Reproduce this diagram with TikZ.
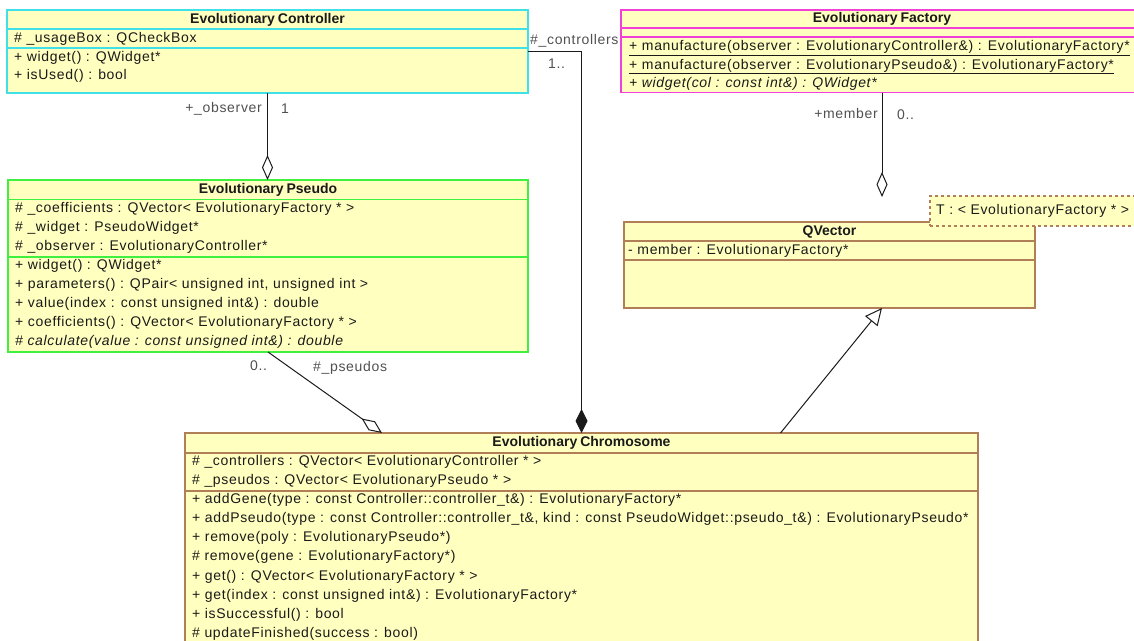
\documentclass[tikz,border=0pt]{standalone}
\usepackage{fontspec}
\setmainfont{Liberation Sans}
\newfontfamily\memberfont{Liberation Sans}[LetterSpace=4.8]
\usetikzlibrary{arrows.meta}

\definecolor{classfill}{HTML}{FFFFC0}
\definecolor{ctrlc}{HTML}{40E0E8}
\definecolor{factc}{HTML}{F040D8}
\definecolor{pseuc}{HTML}{40F040}
\definecolor{brownc}{HTML}{B07F58}
\definecolor{textc}{HTML}{1A1A1A}
\definecolor{labelc}{HTML}{505050}
\definecolor{linec}{HTML}{1A1A1A}

\tikzset{
  classbox/.style={draw=#1, fill=classfill, line width=1.5pt, rectangle,
    inner sep=0pt, outer sep=0pt, anchor=north west},
  sepline/.style={draw=#1, line width=1.5pt},
  classtitle/.style={font=\fontsize{14}{16}\selectfont\bfseries, text=textc,
    inner sep=0pt},
  member/.style={font=\fontsize{14}{16}\selectfont\memberfont, anchor=west,
    inner sep=0pt, text height=10pt, text depth=3pt, text=textc},
  role/.style={member, text=labelc},
  rolee/.style={role, anchor=east},
  link/.style={draw=linec, line width=1pt},
  aggr/.style={link, -{Diamond[open, length=25pt, width=11pt]}},
  comp/.style={link, -{Diamond[length=24pt, width=12pt]}},
  inherit/.style={link, -{Triangle[open, length=17pt, width=16pt]}},
  notebox/.style={draw=brownc, dashed, fill=classfill, line width=1.2pt,
    rectangle, inner sep=0pt, outer sep=0pt, anchor=north west}
}

\begin{document}
\begin{tikzpicture}[x=1pt, y=-1pt]
\useasboundingbox (0,0) rectangle (1134,640);
\clip (0,0) rectangle (1134,640);

% ---------- EvolutionaryController ----------
\node[classbox=ctrlc, minimum width=521pt, minimum height=83pt] (ctrl) at (7,10) {};
\draw[sepline=ctrlc] ([yshift=-19pt]ctrl.north west) -- ([yshift=-19pt]ctrl.north east);
\draw[sepline=ctrlc] ([yshift=-38pt]ctrl.north west) -- ([yshift=-38pt]ctrl.north east);
\node[classtitle] (ctrl-t) at ([yshift=-9.5pt]ctrl.north) {Evolutionary\hspace{3pt}Controller};
\node[member] (ctrl-a1) at (14,38.5) {\# \_usageBox : QCheckBox};
\node[member] (ctrl-m1) at (14,57.5) {+ widget() : QWidget*};
\node[member] (ctrl-m2) at (14,76) {+ isUsed() : bool};

% ---------- EvolutionaryFactory ----------
\node[classbox=factc, minimum width=522pt, minimum height=82.5pt] (fact) at (621,10) {};
\draw[sepline=factc] ([yshift=-18pt]fact.north west) -- ([yshift=-18pt]fact.north east);
\draw[sepline=factc] ([yshift=-27pt]fact.north west) -- ([yshift=-27pt]fact.north east);
\node[classtitle] (fact-t) at ([yshift=-9pt]fact.north) {Evolutionary\hspace{3pt}Factory};
\node[member] (fact-m1) at (629,47) {\underline{+ manufacture(observer : EvolutionaryController\&) : EvolutionaryFactory*}};
\node[member] (fact-m2) at (629,65.5) {\underline{+ manufacture(observer : EvolutionaryPseudo\&) : EvolutionaryFactory*}};
\node[member, font=\fontsize{14}{16}\selectfont\memberfont\itshape] (fact-m3) at (629,84) {+ widget(col : const int\&) : QWidget*};

% ---------- EvolutionaryPseudo ----------
\node[classbox=pseuc, minimum width=520pt, minimum height=172pt] (pseudo) at (8,180) {};
\draw[sepline=pseuc] ([yshift=-19.5pt]pseudo.north west) -- ([yshift=-19.5pt]pseudo.north east);
\draw[sepline=pseuc] ([yshift=-77pt]pseudo.north west) -- ([yshift=-77pt]pseudo.north east);
\node[classtitle] (pseudo-t) at ([yshift=-9.5pt]pseudo.north) {Evolutionary\hspace{3pt}Pseudo};
\node[member] (pseudo-a1) at (15,208.5) {\# \_coefficients : QVector< EvolutionaryFactory * >};
\node[member] (pseudo-a2) at (15,227.5) {\# \_widget : PseudoWidget*};
\node[member] (pseudo-a3) at (15,246.5) {\# \_observer : EvolutionaryController*};
\node[member] (pseudo-m1) at (15,266) {+ widget() : QWidget*};
\node[member] (pseudo-m2) at (15,285) {+ parameters() : QPair< unsigned int, unsigned int >};
\node[member] (pseudo-m3) at (15,304) {+ value(index : const unsigned int\&) : double};
\node[member] (pseudo-m4) at (15,323) {+ coefficients() : QVector< EvolutionaryFactory * >};
\node[member, font=\fontsize{14}{16}\selectfont\memberfont\itshape] (pseudo-m5) at (15,342) {\# calculate(value : const unsigned int\&) : double};

% ---------- QVector with template parameter ----------
\node[classbox=brownc, minimum width=411pt, minimum height=86pt] (qv) at (624,222) {};
\draw[sepline=brownc] ([yshift=-19pt]qv.north west) -- ([yshift=-19pt]qv.north east);
\draw[sepline=brownc] ([yshift=-38pt]qv.north west) -- ([yshift=-38pt]qv.north east);
\node[classtitle] (qv-t) at ([yshift=-9.5pt]qv.north) {QVector};
\node[member] (qv-a1) at (628,250.5) {- member : EvolutionaryFactory*};
\node[notebox, minimum width=220pt, minimum height=30pt] (qv-param) at (930,196) {};
\node[member] (qv-param-t) at (936,211) {T : < EvolutionaryFactory * >};

% ---------- EvolutionaryChromosome ----------
\node[classbox=brownc, minimum width=793pt, minimum height=300pt] (chrom) at (185,433) {};
\draw[sepline=brownc] ([yshift=-20pt]chrom.north west) -- ([yshift=-20pt]chrom.north east);
\draw[sepline=brownc] ([yshift=-58pt]chrom.north west) -- ([yshift=-58pt]chrom.north east);
\node[classtitle] (chrom-t) at ([yshift=-10pt]chrom.north) {Evolutionary\hspace{3pt}Chromosome};
\node[member] (chrom-a1) at (192,462) {\# \_controllers : QVector< EvolutionaryController * >};
\node[member] (chrom-a2) at (192,481) {\# \_pseudos : QVector< EvolutionaryPseudo * >};
\node[member] (chrom-m1) at (192,500) {+ addGene(type : const Controller::controller\_t\&) : EvolutionaryFactory*};
\node[member] (chrom-m2) at (192,519) {+ addPseudo(type : const Controller::controller\_t\&, kind : const PseudoWidget::pseudo\_t\&) : EvolutionaryPseudo*};
\node[member] (chrom-m3) at (192,538) {+ remove(poly : EvolutionaryPseudo*)};
\node[member] (chrom-m4) at (192,557) {\# remove(gene : EvolutionaryFactory*)};
\node[member] (chrom-m5) at (192,576.5) {+ get() : QVector< EvolutionaryFactory * >};
\node[member] (chrom-m6) at (192,595.5) {+ get(index : const unsigned int\&) : EvolutionaryFactory*};
\node[member] (chrom-m7) at (192,614.5) {+ isSuccessful() : bool};
\node[member] (chrom-m8) at (192,633.5) {\# updateFinished(success : bool)};

% ---------- connectors ----------
% controllers: composition into the chromosome
\draw[comp] (ctrl.east) -| (chrom.north);
\node[role] (lbl-ctrls) at (530,41) {\#\_controllers};
\node[role] (lbl-ctrls-m) at (548,65) {1..};

% observer: aggregation of the controller in the pseudo
\draw[aggr] (ctrl.south) -- (ctrl.south |- pseudo.north);
\node[rolee] (lbl-obs) at (262,109) {+\_observer};
\node[role] (lbl-obs-m) at (281,110) {1};

% pseudos: aggregation into the chromosome
\draw[aggr] (pseudo.south) -- ([xshift=-199.5pt]chrom.north);
\node[role] (lbl-pseudos-m) at (250,367) {0..};
\node[role] (lbl-pseudos) at (313,368) {\#\_pseudos};

% member: aggregation of factories in the vector
\coordinate (qv-agg) at (882,197);
\draw[aggr] (fact.south) -- (qv-agg);
\node[rolee] (lbl-member) at (878,115) {+member};
\node[role] (lbl-member-m) at (897,116) {0..};

% chromosome specialises the vector
\draw[inherit] ([xshift=199pt]chrom.north) -- ([xshift=52.5pt]qv.south);
\end{tikzpicture}
\end{document}
